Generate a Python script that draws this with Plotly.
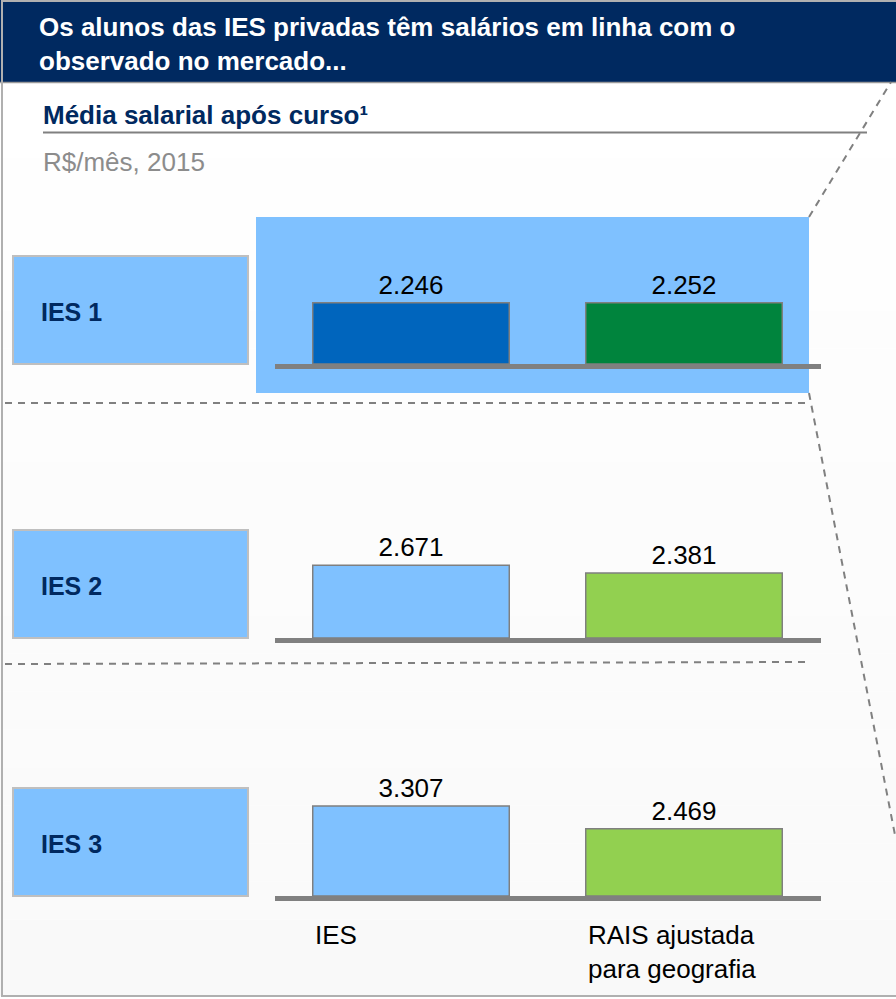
import plotly.graph_objects as go

W, H = 896, 999


def px(x):
    return x / W


def py(y):
    return 1 - y / H


# ---- data -------------------------------------------------------------
groups = ["IES 1", "IES 2", "IES 3"]
series = ["IES", "RAIS ajustada para geografia"]
ies_values = [2246, 2671, 3307]
rais_values = [2252, 2381, 2469]
series_labels = ["IES", "RAIS ajustada<br>para geografia"]

# ---- styling ----------------------------------------------------------
NAVY = "#002960"
GRAY_LINE = "#808080"
LIGHT_BLUE = "#7FC1FF"
bar_colors = [["#0065BD", "#00843D"], [LIGHT_BLUE, "#92D050"], [LIGHT_BLUE, "#92D050"]]
FONT = "Liberation Sans, Arial, sans-serif"

baselines = [364, 638, 896]      # pixel row of each panel's baseline
panel_h = 109.0                  # pixel height of the 0..4000 value range
y_max = 4000
x_left, x_right = 274.5, 820.5   # pixel extent of each panel's category axis
bar_width = 0.72

fig = go.Figure()
layout = dict(
    width=W, height=H, autosize=False,
    margin=dict(l=0, r=0, t=0, b=0),
    paper_bgcolor="white", plot_bgcolor="rgba(0,0,0,0)",
    showlegend=False, separators=",.",
    font=dict(family=FONT, size=26, color="black"),
)

for i, g in enumerate(groups):
    n = "" if i == 0 else str(i + 1)
    fig.add_trace(go.Bar(
        x=series, y=[ies_values[i], rais_values[i]],
        name=g,
        width=bar_width,
        marker=dict(color=bar_colors[i], line=dict(color="#7F7F7F", width=1.5)),
        texttemplate="%{y:,.0f}", textposition="outside",
        textfont=dict(family=FONT, size=26, color="black"),
        cliponaxis=False,
        xaxis="x" + n, yaxis="y" + n,
    ))
    base = baselines[i]
    layout["xaxis" + n] = dict(
        domain=[px(x_left), px(x_right)], anchor="y" + n,
        type="category", range=[-0.5, 1.5],
        showticklabels=False, ticks="", showgrid=False, zeroline=False,
        showline=True, linecolor=GRAY_LINE, linewidth=5, fixedrange=True,
    )
    layout["yaxis" + n] = dict(
        domain=[py(base), py(base - panel_h)], anchor="x" + n,
        range=[0, y_max], visible=False, showgrid=False, fixedrange=True,
    )

shapes = []
annotations = []

# soft vertical gradient of the body background
bands = 24
top, bottom = 82, 996
for k in range(bands):
    t = k / (bands - 1)
    c = int(round(255 - 6 * t))
    shapes.append(dict(
        type="rect", xref="paper", yref="paper", layer="below",
        x0=0, x1=1, y0=py(top + (bottom - top) * (k + 1) / bands),
        y1=py(top + (bottom - top) * k / bands),
        fillcolor=f"rgb({c},{c},{c})", line=dict(width=0),
    ))

# header band
shapes.append(dict(type="rect", xref="paper", yref="paper", layer="below",
                   x0=0, x1=1, y0=py(82), y1=1,
                   fillcolor=NAVY, line=dict(width=0)))
shapes.append(dict(type="line", xref="paper", yref="paper",
                   x0=0, x1=1, y0=py(82.5), y1=py(82.5),
                   line=dict(color="#9A9A9A", width=1.5)))

# outer frame
shapes.append(dict(type="rect", xref="paper", yref="paper",
                   x0=px(2), x1=px(905), y0=py(996), y1=py(1),
                   line=dict(color="#B0B0B0", width=2)))

# underline of the chart subtitle
shapes.append(dict(type="line", xref="paper", yref="paper",
                   x0=px(43), x1=px(867), y0=py(132.5), y1=py(132.5),
                   line=dict(color=GRAY_LINE, width=2)))

# highlight behind the first panel
shapes.append(dict(type="rect", xref="paper", yref="paper", layer="below",
                   x0=px(256), x1=px(809), y0=py(393), y1=py(217),
                   fillcolor=LIGHT_BLUE, line=dict(width=0)))

# dashed separators and call-out lines
dash = "7px,6px"
for (xa, ya, xb, yb) in [(5, 403, 809, 403), (5, 664, 809, 662),
                         (809, 217, 891, 82), (809, 393, 895, 835)]:
    shapes.append(dict(type="line", xref="paper", yref="paper",
                       x0=px(xa), x1=px(xb), y0=py(ya), y1=py(yb),
                       line=dict(color=GRAY_LINE, width=2, dash=dash)))

# group label boxes
for i, g in enumerate(groups):
    base = baselines[i]
    shapes.append(dict(type="rect", xref="paper", yref="paper", layer="below",
                       x0=px(13), x1=px(248), y0=py(base), y1=py(base - 108),
                       fillcolor=LIGHT_BLUE, line=dict(color="#BFBFBF", width=2)))
    annotations.append(dict(
        text=f"<b>{g}</b>", xref="paper", yref="paper",
        x=px(39), y=py(base - 54 + 2), xanchor="left", yanchor="middle",
        showarrow=False, font=dict(family=FONT, size=25, color=NAVY),
    ))

# titles
annotations.append(dict(
    text="<b>Os alunos das IES privadas têm salários em linha com o<br>observado no mercado...</b>",
    xref="paper", yref="paper", x=px(37), y=py(44), xanchor="left", yanchor="middle",
    align="left", showarrow=False, font=dict(family=FONT, size=26, color="white"),
))
annotations.append(dict(
    text="<b>Média salarial após curso¹</b>",
    xref="paper", yref="paper", x=px(41), y=py(115), xanchor="left", yanchor="middle",
    showarrow=False, font=dict(family=FONT, size=26, color=NAVY),
))
annotations.append(dict(
    text="R$/mês, 2015",
    xref="paper", yref="paper", x=px(41), y=py(162), xanchor="left", yanchor="middle",
    showarrow=False, font=dict(family=FONT, size=26, color="#8C8C8C"),
))

# series labels under the last panel, aligned with each bar's left edge
for j, lab in enumerate(series_labels):
    annotations.append(dict(
        text=lab, xref="x3", yref="paper", x=j - bar_width / 2, y=py(918),
        xanchor="left", yanchor="top", align="left", showarrow=False,
        font=dict(family=FONT, size=26, color="black"),
    ))

layout["shapes"] = shapes
layout["annotations"] = annotations
fig.update_layout(**layout)

fig.write_html("out.html")
